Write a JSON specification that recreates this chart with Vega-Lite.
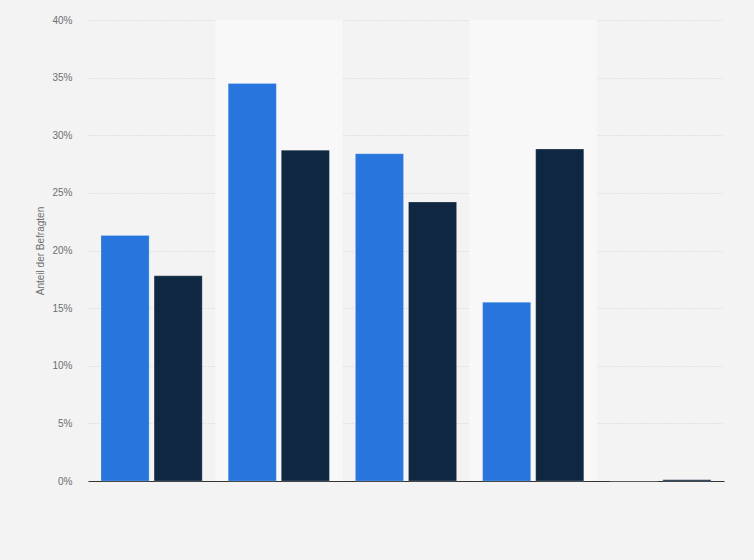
{
  "$schema": "https://vega.github.io/schema/vega-lite/v6.json",
  "width": 636,
  "height": 461,
  "autosize": {"type": "none"},
  "padding": {"left": 88, "top": 20, "right": 30, "bottom": 79},
  "background": "#f3f3f3",
  "config": {
    "view": {"stroke": null},
    "font": "Liberation Sans"
  },
  "data": {
    "values": [
      {"group": "Gruppe 1", "series": "A", "value": 21.3},
      {"group": "Gruppe 1", "series": "B", "value": 17.8},
      {"group": "Gruppe 2", "series": "A", "value": 34.5},
      {"group": "Gruppe 2", "series": "B", "value": 28.7},
      {"group": "Gruppe 3", "series": "A", "value": 28.4},
      {"group": "Gruppe 3", "series": "B", "value": 24.2},
      {"group": "Gruppe 4", "series": "A", "value": 15.5},
      {"group": "Gruppe 4", "series": "B", "value": 28.8},
      {"group": "Gruppe 5", "series": "A", "value": 0},
      {"group": "Gruppe 5", "series": "B", "value": 0.1}
    ]
  },
  "encoding": {
    "x": {
      "field": "group",
      "type": "nominal",
      "scale": {"paddingInner": 0, "paddingOuter": 0},
      "axis": {
        "title": null,
        "labels": false,
        "ticks": false,
        "domainColor": "#333333",
        "domainWidth": 1,
        "grid": false
      }
    }
  },
  "layer": [
    {
      "transform": [
        {"filter": "datum.series === 'A' && (datum.group === 'Gruppe 2' || datum.group === 'Gruppe 4')"}
      ],
      "mark": {"type": "bar", "color": "#f8f8f8"},
      "encoding": {
        "y": {"datum": 0, "type": "quantitative"},
        "y2": {"datum": 40}
      }
    },
    {
      "mark": {"type": "bar", "strokeWidth": 0.6, "stroke": "#ffffff", "strokeOpacity": 0.35},
      "encoding": {
        "xOffset": {
          "field": "series",
          "type": "nominal",
          "scale": {"paddingInner": 0.094, "paddingOuter": 0.245}
        },
        "y": {
          "field": "value",
          "type": "quantitative",
          "scale": {"domain": [0, 40], "nice": false},
          "axis": {
            "title": "Anteil der Befragten",
            "titleFont": "Liberation Sans",
            "titleFontSize": 10,
            "titleFontWeight": "normal",
            "titleColor": "#6e6e6e",
            "titlePadding": 6,
            "values": [0, 5, 10, 15, 20, 25, 30, 35, 40],
            "labelExpr": "datum.value + '%'",
            "labelFontSize": 10,
            "labelColor": "#6e6e6e",
            "labelPadding": 16,
            "ticks": false,
            "domain": false,
            "grid": true,
            "gridColor": "#d0d0d0",
            "gridDash": [1, 2],
            "gridWidth": 1
          }
        },
        "color": {
          "field": "series",
          "type": "nominal",
          "scale": {"domain": ["A", "B"], "range": ["#2876dd", "#0f2740"]},
          "legend": null
        }
      }
    }
  ]
}
